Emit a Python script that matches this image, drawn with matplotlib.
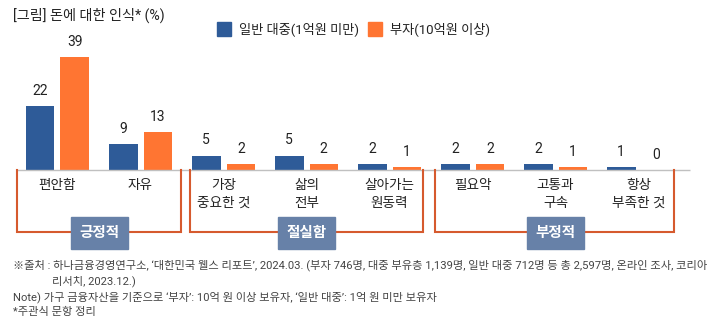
import numpy as np
import matplotlib
matplotlib.use('Agg')
import matplotlib.pyplot as plt
from matplotlib.patches import Rectangle
from matplotlib.transforms import blended_transform_factory

plt.rcParams['font.family'] = ['Roboto', 'Noto Sans CJK KR', 'DejaVu Sans']

# 데이터
categories = ['편안함', '자유', '가장\n중요한 것', '삶의\n전부', '살아가는\n원동력',
              '필요악', '고통과\n구속', '항상\n부족한 것']
general = [22, 9, 5, 5, 2, 2, 2, 1]
rich = [39, 13, 2, 2, 1, 2, 1, 0]
series_names = ['일반 대중(1억원 미만)', '부자(10억원 이상)']
groups = ['긍정적', '절실함', '부정적']
group_spans = [(-0.49, 1.49), (1.6, 4.4), (4.55, 7.43)]
group_centers = [0.5, 3.0, 6.0]
title = '[그림] 돈에 대한 인식* (%)'
notes = [
    "※출처 : 하나금융경영연구소, ‘대한민국 웰스 리포트’, 2024.03. (부자 746명, 대중 부유층 1,139명, 일반 대중 712명 등 총 2,597명, 온라인 조사, 코리아",
    "리서치, 2023.12.)",
    "Note) 가구 금융자산을 기준으로 ‘부자’: 10억 원 이상 보유자, ‘일반 대중’: 1억 원 미만 보유자",
    "*주관식 문항 정리",
]

BLUE = '#2E5B98'
ORANGE = '#FF7532'
BRACKET = '#D65A2E'
TAG = '#6781A8'

W, H = 721, 328
fig = plt.figure(figsize=(W / 100, H / 100), dpi=100)

# 막대 영역: 기준선 y=170px, 그룹 간격 83px
base_px = 170
px_per_unit = 2.9
ax = fig.add_axes([0, 1 - base_px / H, 1, base_px / H])
ax.set_xlim(-57.5 / 83, (W - 57.5) / 83)
ax.set_ylim(0, base_px / px_per_unit)
x = np.arange(len(categories))
bw = 28.5 / 83
off = 17.25 / 83
b1 = ax.bar(x - off, general, bw, color=BLUE, label=series_names[0])
b2 = ax.bar(x + off, rich, bw, color=ORANGE, label=series_names[1])
for bars, vals in [(b1, general), (b2, rich)]:
    for r, v in zip(bars, vals):
        ax.annotate(f'{v}', (r.get_x() + r.get_width() / 2, v), xytext=(0, 6),
                    textcoords='offset points', ha='center', va='bottom',
                    fontsize=10, color='#222222')
for s in ax.spines.values():
    s.set_visible(False)
ax.set_yticks([])
ax.set_xticks(x)
ax.set_xticklabels(categories, fontsize=9.8, color='#222222', linespacing=1.4)
ax.tick_params(axis='x', length=0, pad=5.5)
ax.hlines(0, -0.49, 7.62, color='#C0C0C0', lw=1, clip_on=False, zorder=3)

# 오버레이 (픽셀 좌표)
ov = fig.add_axes([0, 0, 1, 1], facecolor='none')
ov.set_xlim(0, W)
ov.set_ylim(H, 0)
ov.axis('off')
tr = blended_transform_factory(ax.transData, ov.transData)

for name, (a, b), c in zip(groups, group_spans, group_centers):
    ov.plot([a, a, b, b], [base_px, 232, 232, base_px], color=BRACKET, lw=1.5,
            transform=tr, solid_joinstyle='miter')
    # 태그 상자
    cx = ov.transData.inverted().transform(tr.transform((c, 0)))[0]
    ov.add_patch(Rectangle((cx - 28.5, 217), 57, 32, color=TAG, zorder=4))
    ov.text(cx, 233.5, name, ha='center', va='center', color='white',
            fontsize=10.5, fontweight='bold', zorder=5)

ov.text(13, 15, title, ha='left', va='center', fontsize=10.2, color='#222222')

# 범례
for i, (nm, col) in enumerate(zip(series_names, [BLUE, ORANGE])):
    x0 = 217 if i == 0 else 368
    ov.add_patch(Rectangle((x0, 22), 14, 14, color=col))
    ov.text(x0 + 22, 29, nm, ha='left', va='center', fontsize=9.5, color='#222222')

ny = [265, 281, 297, 312]
nx = [13, 52, 13, 13]
for t, xx, yy in zip(notes, nx, ny):
    ov.text(xx, yy, t, ha='left', va='center', fontsize=8.1, color='#444444')

fig.savefig('out.png', dpi=100)
